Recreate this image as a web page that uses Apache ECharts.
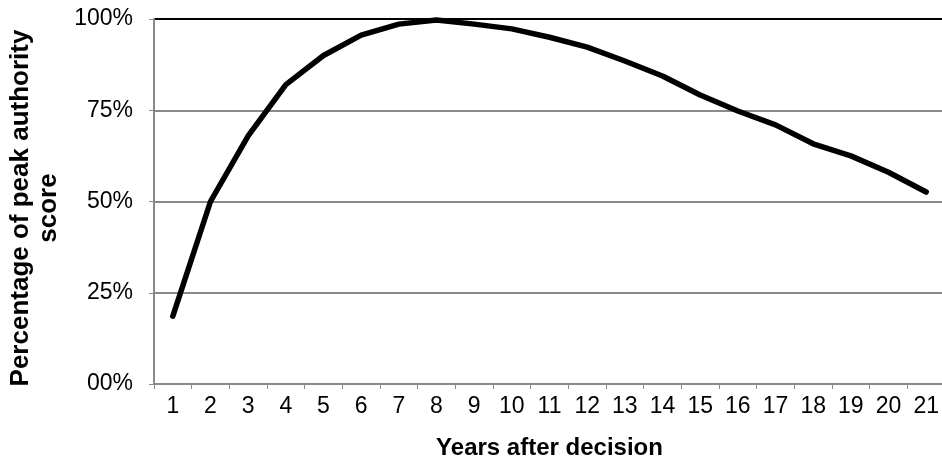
<!DOCTYPE html>
<html>
<head>
<meta charset="utf-8">
<script src="https://cdn.jsdelivr.net/npm/echarts@6/dist/echarts.min.js"></script>
<style>html,body{margin:0;padding:0;background:#fff}#c{width:942px;height:460px}</style>
</head>
<body>
<div id="c"></div>
<script>
const years = ['1','2','3','4','5','6','7','8','9','10','11','12','13','14','15','16','17','18','19','20','21'];
const pctOfPeak = [18.6, 50, 68, 82, 90, 95.6, 98.6, 99.7, 98.6, 97.3, 95, 92.3, 88.5, 84.4, 79.2, 74.8, 71, 65.8, 62.5, 58, 52.6];
const yTickLabels = {0: '00%', 25: '25%', 50: '50%', 75: '75%', 100: '100%'};
const xTitle = 'Years after decision';
const yTitle = 'Percentage of peak authority\nscore';

const chart = echarts.init(document.getElementById('c'), null, {renderer: 'canvas'});
const font = 'Liberation Sans, Arial, sans-serif';
chart.setOption({
  animation: false,
  backgroundColor: '#fff',
  grid: {left: 154, right: -3, top: 19, bottom: 76, containLabel: false, outerBoundsMode: 'none'},
  xAxis: {
    type: 'category',
    data: years,
    boundaryGap: true,
    name: xTitle,
    nameLocation: 'middle',
    nameGap: 52,
    nameTextStyle: {fontFamily: font, fontSize: 24, fontWeight: 'bold', color: '#000'},
    axisLine: {lineStyle: {color: '#8a8a8a', width: 2}},
    axisTick: {show: true, length: 5, lineStyle: {color: '#8a8a8a', width: 1}},
    axisLabel: {fontFamily: font, fontSize: 23, color: '#000', margin: 11, interval: 0},
    splitLine: {show: false}
  },
  yAxis: {
    type: 'value',
    min: 0, max: 100, interval: 25,
    name: yTitle,
    nameLocation: 'middle',
    nameGap: 85,
    nameTextStyle: {fontFamily: font, fontSize: 26, fontWeight: 'bold', color: '#000', lineHeight: 28, align: 'center', padding: [0, 13, 0, 0]},
    axisLine: {show: true, lineStyle: {color: '#8a8a8a', width: 2}},
    axisTick: {show: true, length: 5, inside: false, lineStyle: {color: '#8a8a8a'}},
    axisLabel: {fontFamily: font, fontSize: 23, color: '#000', margin: 21,
      formatter: v => yTickLabels[v] !== undefined ? yTickLabels[v] : ''},
    splitLine: {show: true, lineStyle: {color: ['#8a8a8a', '#8a8a8a', '#8a8a8a', '#8a8a8a', '#000'], width: 2}}
  },
  series: [{
    type: 'line',
    data: pctOfPeak,
    showSymbol: false,
    symbol: 'none',
    lineStyle: {color: '#000', width: 5.5, cap: 'round', join: 'round'},
    z: 5
  }]
});
</script>
</body>
</html>
